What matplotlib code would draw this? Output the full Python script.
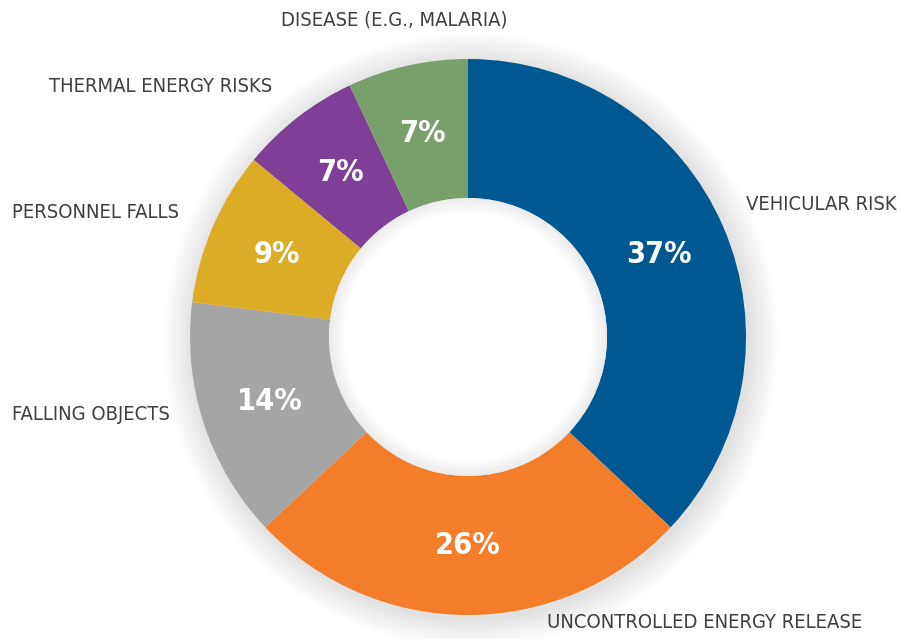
import matplotlib
matplotlib.use("Agg")
import matplotlib.pyplot as plt
from matplotlib.patches import Wedge, Circle

# data
categories = ["VEHICULAR RISK", "UNCONTROLLED ENERGY RELEASE", "FALLING OBJECTS",
              "PERSONNEL FALLS", "THERMAL ENERGY RISKS", "DISEASE (E.G., MALARIA)"]
shares = [37, 26, 14, 9, 7, 7]
colors = ["#005893", "#F47D2A", "#A5A5A5", "#DDAC27", "#7F3F97", "#77A06A"]

plt.rcParams['font.family'] = ['DejaVu Sans']
plt.rcParams['font.stretch'] = 'condensed'

fig = plt.figure(figsize=(9.01, 6.39), dpi=100)
ax = fig.add_axes([0, 0, 1, 1])
ax.set_xlim(0, 901)
ax.set_ylim(0, 639)
ax.axis('off')

cx, cy = 468, 302
R, r_in = 278, 139

# soft glow around the ring
n = 30
for i in range(n):
    rr = R + 30 * (1 - i / n)
    ax.add_patch(Circle((cx + 3, cy - 3), rr, color="#000000", alpha=0.005, lw=0, zorder=1))

wedges, texts, autotexts = ax.pie(
    shares, colors=colors, startangle=90, counterclock=False,
    radius=R, center=(cx, cy), autopct='%d%%', pctdistance=0.75,
    wedgeprops=dict(width=R - r_in, linewidth=0),
    textprops=dict(color="white", fontsize=22, fontweight="bold", fontstretch="condensed"))
for w in wedges:
    w.set_zorder(2)
for t in autotexts:
    t.set_zorder(5)
ax.set_xlim(0, 901)
ax.set_ylim(0, 639)
ax.set_aspect('auto')

# inner hole shading
ax.add_patch(Circle((cx, cy), r_in, color="white", lw=0, zorder=3))
for i in range(20):
    ax.add_patch(Wedge((cx, cy), r_in, 0, 360, width=16 * (1 - i / 20),
                       color="#000000", alpha=0.004, lw=0, zorder=4))

lab_kw = dict(fontsize=14.5, color="#3F3F3F", va="center", fontstretch="condensed")
ax.text(897, 639 - 205, categories[0], ha="right", **lab_kw)
ax.text(862, 639 - 622, categories[1], ha="right", **lab_kw)
ax.text(12, 639 - 415, categories[2], ha="left", **lab_kw)
ax.text(12, 639 - 213, categories[3], ha="left", **lab_kw)
ax.text(272, 639 - 87, categories[4], ha="right", **lab_kw)
ax.text(394, 639 - 20, categories[5], ha="center", **lab_kw)

fig.savefig("out.png", dpi=100, facecolor="white")
